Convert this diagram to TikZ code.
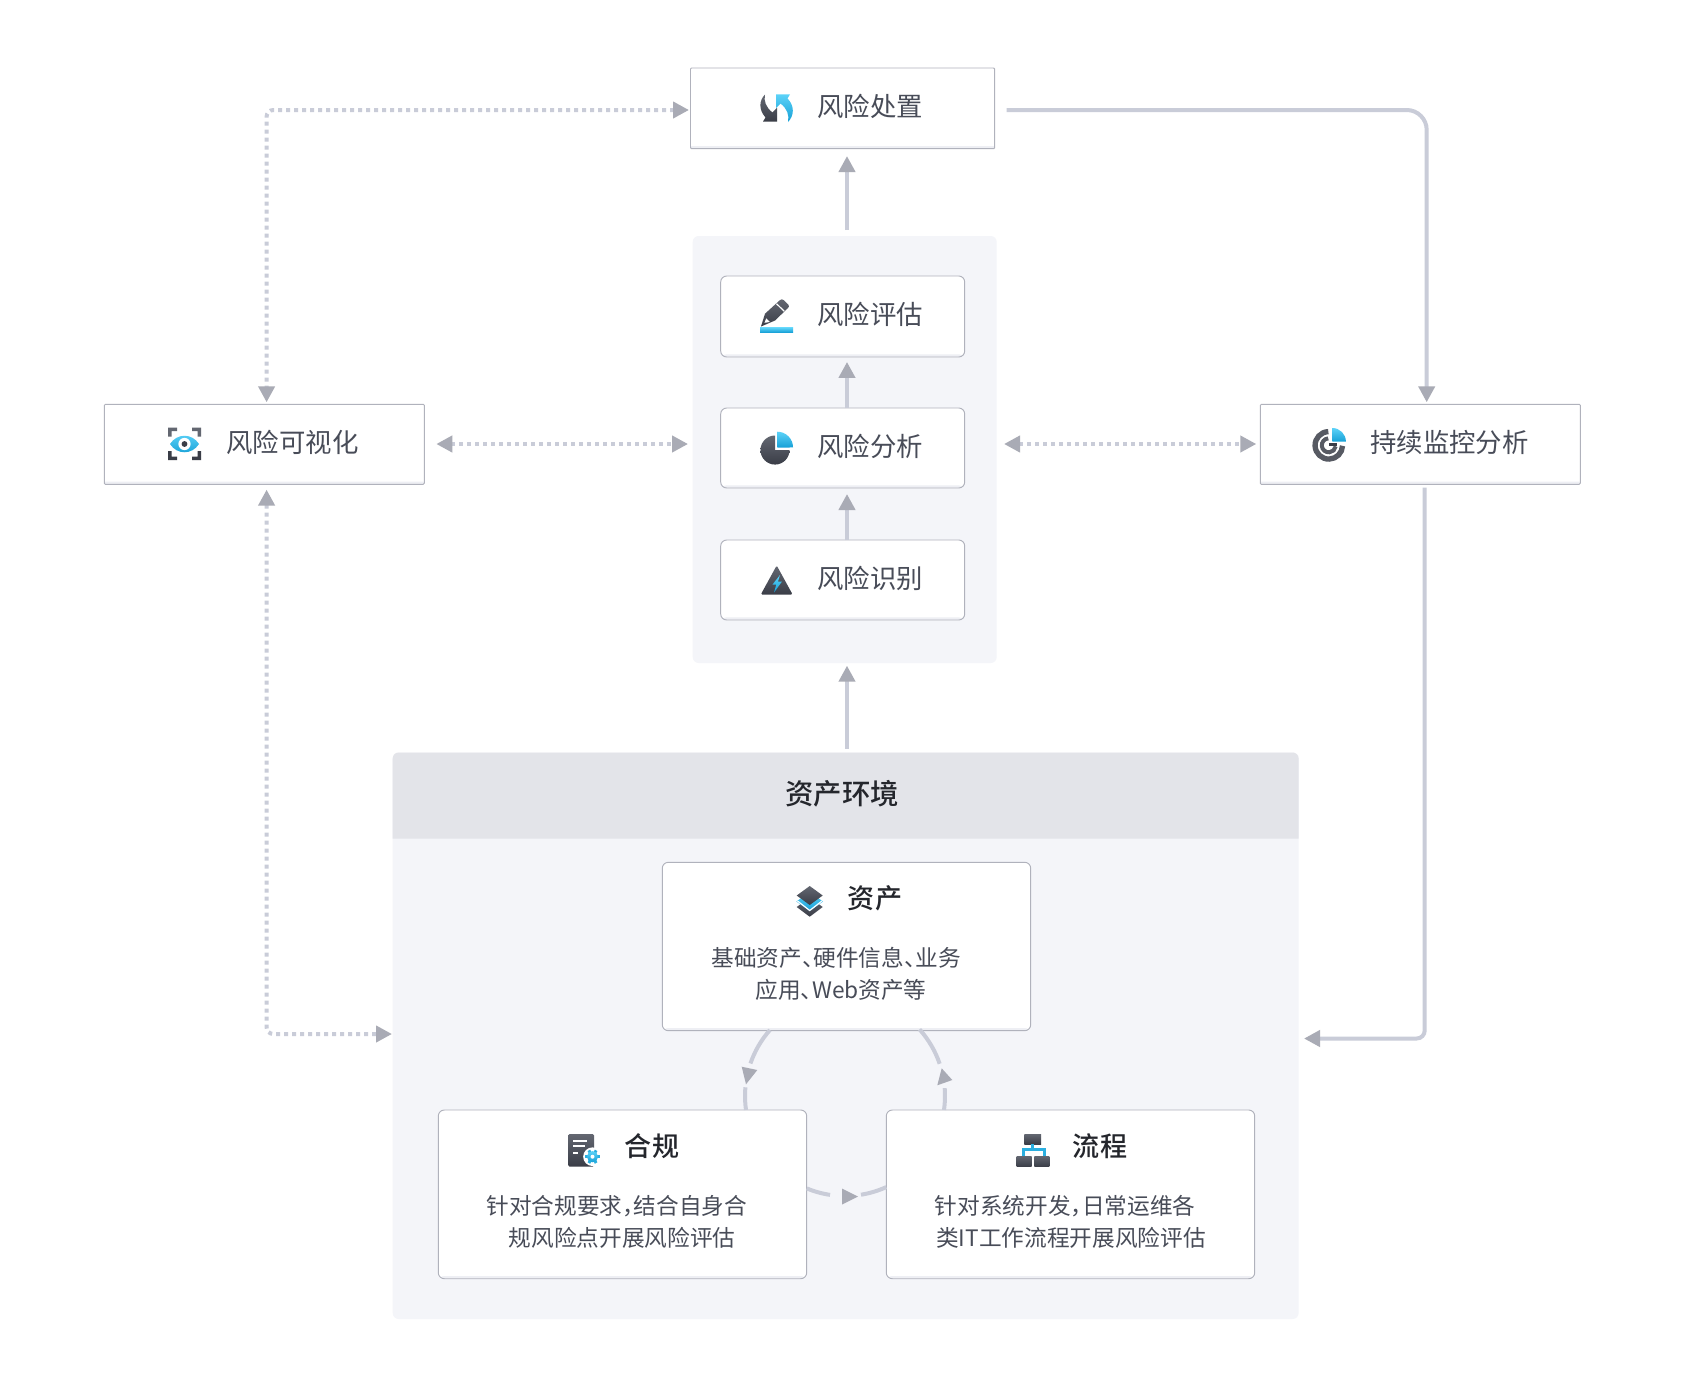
\documentclass[tikz,border=0pt]{standalone}
\usepackage{fontspec}
\usetikzlibrary{arrows.meta,calc}
\setmainfont{Noto Sans CJK SC}[RawFeature=+halt]
\newfontfamily\cjkmed{Noto Sans CJK SC Medium}[RawFeature=+halt]
\definecolor{linec}{HTML}{C9CCD8}
\definecolor{headc}{HTML}{A9ABB5}
\definecolor{panelc}{HTML}{F4F5F9}
\definecolor{hdrc}{HTML}{E3E4E9}
\definecolor{borderc}{HTML}{B0B2BC}
\definecolor{stripc}{HTML}{EEEFF4}
\definecolor{textc}{HTML}{484C58}
\definecolor{titlec}{HTML}{24262C}
\definecolor{darkt}{HTML}{636771}
\definecolor{darkb}{HTML}{3A3D47}
\definecolor{bluet}{HTML}{5CD2F8}
\definecolor{blueb}{HTML}{16A0D6}
\newcommand\pbox[6]{\node[#2,minimum width={(#5-#3)*0.75pt},minimum height={(#6-#4)*0.75pt}] (#1) at ({(#3+#5)/2},{(#4+#6)/2}) {};}
\tikzset{
  x=0.75pt,y=-0.75pt,
  boxbase/.style={fill=white,draw=borderc,line width=0.7pt,inner sep=0pt,outer sep=0pt,
    path picture={\fill[stripc] ([yshift=2pt]path picture bounding box.south west) rectangle (path picture bounding box.south east);}},
  boxsharp/.style={boxbase,rounded corners=0.8pt},
  boxround/.style={boxbase,rounded corners=4.5pt},
  panelbox/.style={fill=panelc,inner sep=0pt,outer sep=0pt,rounded corners=4.5pt},
  flowa/.style={draw=linec,line width=3pt,-{Triangle[length=12pt,width=12pt,color=headc]}},
  flowl/.style={draw=linec,line width=3pt},
  dota/.style={draw=linec,line width=3pt,dash pattern=on 3pt off 3pt,{Triangle[length=12pt,width=12pt,color=headc]}-{Triangle[length=12pt,width=12pt,color=headc]}},
  lab/.style={inner sep=0pt,outer sep=0pt,text=textc,font=\fontsize{19.8pt}{24pt}\selectfont},
  bodyt/.style={inner sep=0pt,outer sep=0pt,text=textc,font=\fontsize{17pt}{24pt}\selectfont},
  titlet/.style={inner sep=0pt,outer sep=0pt,text=titlec,font=\cjkmed\fontsize{20.3pt}{24pt}\selectfont},
  dk/.style={top color=darkt,bottom color=darkb,draw=none},
  bl/.style={top color=bluet,bottom color=blueb,draw=none},
  gapw/.style={draw=white,line width=0.9pt},
}
\begin{document}
\begin{tikzpicture}
\useasboundingbox (0,0) rectangle (1685,1389);
\fill[white] (0,0) rectangle (1685,1389);
% panels
\pbox{grp}{panelbox}{692.7}{236}{996.7}{663}
\pbox{env}{panelbox}{392.7}{752.5}{1298.6}{1319}
\fill[hdrc] (392.7,838.5) [rounded corners=4.5pt] -- (392.7,752.5) -- (1298.6,752.5) [sharp corners] -- (1298.6,838.5) -- cycle;
% free ends and guide coordinates
\coordinate (ax) at (847,0);
\coordinate (lx) at (266.6,0);
\coordinate (kx) at (1426.7,0);
\coordinate (kx2) at (1424.7,0);
\coordinate (ty) at (0,110);
\coordinate (hy) at (0,444);
\coordinate (tr) at (1006.7,110);
\coordinate (tl) at (689,102.4);
\coordinate (envl) at (392,1034);
\coordinate (envr) at (1304,1038.5);
\coordinate (rc) at (845,1096);
% boxes
\pbox{cz}{boxsharp}{690.5}{68}{994.7}{148.7}
\pbox{pg}{boxround}{720.7}{276}{964.7}{357}
\pbox{fx}{boxround}{720.7}{408}{964.7}{488}
\pbox{sb}{boxround}{720.7}{540}{964.7}{620}
\pbox{ks}{boxsharp}{104.3}{404.3}{424.3}{484.3}
\pbox{jk}{boxsharp}{1260.3}{404.3}{1580.3}{484.3}
\pbox{zc}{boxround}{662.3}{862.3}{1030.7}{1030.7}
\pbox{hg}{boxround}{438.3}{1110}{806.7}{1278.7}
\pbox{lc}{boxround}{886.3}{1110}{1254.7}{1278.7}
% straight connectors
\draw[flowa,shorten <=4.5pt,shorten >=5.5pt] (grp.north -| ax) -- (cz.south -| ax);
\draw[flowa,shorten >=3.7pt] (fx.north -| ax) -- (pg.south -| ax);
\draw[flowa,shorten >=4.5pt] (sb.north -| ax) -- (fx.south -| ax);
\draw[flowa,shorten <=3pt,shorten >=2pt] (env.north -| ax) -- (grp.south -| ax);
\draw[flowl,rounded corners=15pt,-{Triangle[length=12pt,width=12pt,color=headc]},shorten >=1.5pt] (tr) -- (kx |- tr) -- (kx |- jk.north);
\draw[flowl,rounded corners=6pt,-{Triangle[length=12pt,width=12pt,color=headc]},shorten <=2.5pt] (jk.south -| kx2) -- (kx2 |- envr) -- (envr);
% dotted connectors
\draw[dota,rounded corners=5pt,shorten >=1.5pt] (tl |- ty) -- (lx |- ty) -- (lx |- ks.north);
\draw[dota,rounded corners=5pt,shorten <=4pt] (lx |- ks.south) -- (lx |- envl) -- (envl);
\draw[dota,shorten <=9pt,shorten >=3.5pt] (ks.east |- hy) -- (grp.west |- hy);
\draw[dota,shorten <=5.5pt,shorten >=3pt] (grp.east |- hy) -- (jk.west |- hy);
% ring connectors
\draw[flowl] ([shift={(-138.7:100)}]rc) arc[start angle=138.7,end angle=161,radius=75pt];
\draw[flowl] ([shift={(-175:100)}]rc) arc[start angle=175,end angle=188,radius=75pt];
\fill[headc] (746,1084.3) -- (741.7,1066.7) -- (757.3,1070) -- cycle;
\draw[flowl] ([shift={(8:100)}]rc) arc[start angle=-8,end angle=4.5,radius=75pt];
\draw[flowl] ([shift={(-18.8:100)}]rc) arc[start angle=18.8,end angle=41.8,radius=75pt];
\fill[headc] (941.7,1068.3) -- (952.3,1080) -- (937.3,1085.3) -- cycle;
\draw[flowl] ([shift={(-247.5:100)}]rc) arc[start angle=247.5,end angle=261.4,radius=75pt];
\draw[flowl] ([shift={(-279.2:100)}]rc) arc[start angle=279.2,end angle=294.4,radius=75pt];
\fill[headc] (858,1196.5) -- (842,1188.5) -- (842,1204.5) -- cycle;
% labels
\node[lab] (t1) at (870,106.7) {风险处置};
\node[lab] (t2) at (870,314) {风险评估};
\node[lab] (t3) at (870,446.7) {风险分析};
\node[lab] (t4) at (870,578.3) {风险识别};
\node[lab] (t5) at (292.5,442.7) {风险可视化};
\node[lab] (t6) at (1449.5,442.7) {持续监控分析};
\node[titlet,font=\cjkmed\fontsize{21.3pt}{24pt}\selectfont] (t7) at (842,793.5) {资产环境};
\node[titlet] (t8) at (875,898.2) {资产};
\node[bodyt] (b1) at (836,957.7) {基础资产、硬件信息、业务};
\node[bodyt] (b2) at (841,990) {应用、Web资产等};
\node[titlet] (t9) at (652,1146) {合规};
\node[bodyt] (b3) at (616.7,1206) {针对合规要求，结合自身合};
\node[bodyt] (b4) at (622,1238) {规风险点开展风险评估};
\node[titlet] (t10) at (1100,1146) {流程};
\node[bodyt] (b5) at (1065,1206) {针对系统开发，日常运维各};
\node[bodyt] (b6) at (1071,1238) {类IT工作流程开展风险评估};
% icon: recycle
\shade[dk] (765,94.5) .. controls (759.5,100) and (758,109) .. (765.5,117.5) -- (763,121.5) -- (777,121.5) -- (777,107.7) -- (772.5,112.5) .. controls (766,107.5) and (763.5,101) .. (765,94.5) -- cycle;
\shade[bl] (788,122) .. controls (794,116) and (795,106) .. (787.5,98.5) -- (790,94.3) -- (776,94.3) -- (776,108) -- (780.5,103.5) .. controls (787,108.5) and (789.5,115) .. (788,122) -- cycle;
% icon: pen
\shade[dk] (761,326.5) -- (765,313.7) -- (779.5,300.5) .. controls (781,299) and (782.5,299) .. (783.5,300) -- (788.5,305) .. controls (789.3,306) and (789,307) .. (788,308) -- (775,320.5) -- cycle;
\draw[gapw] (776.5,303.7) -- (784.3,311.3);
\fill[white] (764.5,322.8) -- (766.2,318.3) -- (769.8,322) -- cycle;
\shade[bl] (760,327.7) rectangle (793,332.3);
% icon: eye
\foreach \cx/\cy/\sx/\sy/\st in {168/427.7/1/1/darkt,201/427.7/-1/1/darkt,168/460/1/-1/darkb,201/460/-1/-1/darkb}{
  \fill[\st] (\cx,\cy) -- ++(\sx*9,0) -- ++(0,\sy*3.5) -- ++(-\sx*5.5,0) -- ++(0,\sy*5.5) -- ++(-\sx*3.5,0) -- cycle;}
\shade[bl] (170,444) .. controls (177,433) and (192,433) .. (199,444) .. controls (192,455) and (177,455) .. (170,444) -- cycle;
\fill[white] (184.5,444) circle[radius=4.6pt];
\fill[darkb] (184.5,444) circle[radius=2.2pt];
% icon: target
\coordinate (tg) at (1328.8,445.3);
\draw[darkb!85!white,line width=4pt] ([shift={(-92:13.7)}]tg) arc[start angle=92,end angle=358,radius=10.3pt];
\draw[darkb!85!white,line width=3pt] ([shift={(-95:7)}]tg) arc[start angle=95,end angle=352,radius=5.25pt];
\fill[darkb] (1329,442.5) rectangle (1337,445.5);
\shade[bl] (1332.3,441.7) -- (1332.3,428) arc[start angle=90,end angle=0,radius=10.2pt] -- cycle;
% icon: pie
\shade[dk] (775,450) -- (775,435.5) arc[start angle=90,end angle=360,radius=10.9pt] -- cycle;
\shade[bl] (777.3,447.7) -- (777.3,431.7) arc[start angle=90,end angle=0,radius=11.8pt] -- cycle;
% icon: triangle
\shade[dk,rounded corners=1pt] (776.7,565.5) -- (792.6,594.5) -- (760.8,594.5) -- cycle;
\shade[bl] (780,575) -- (772.5,584.5) -- (776.3,584.5) -- (774,592.5) -- (782,581.5) -- (778,581.5) -- cycle;
% icon: layers
\shade[dk] (809.7,897.5) -- (822.7,907) -- (809.7,916.7) -- (796.7,907) -- cycle;
\shade[bl] (809.7,892) -- (823,901.5) -- (809.7,911) -- (796.4,901.5) -- cycle;
\draw[gapw] (797.5,901) -- (809.7,910.5) -- (822,901);
\shade[dk] (809.7,886) -- (822.7,895.5) -- (809.7,905) -- (796.7,895.5) -- cycle;
% icon: document
\shade[dk,rounded corners=1pt] (568.3,1134) rectangle (594,1166.7);
\fill[white] (573.3,1139.7) rectangle (587,1141.7);
\fill[white] (573.3,1145.3) rectangle (585,1147.3);
\fill[white] (573.3,1152) rectangle (578.3,1154);
\fill[white] (592.5,1156.7) circle[radius=7pt];
\coordinate (gr) at (592.5,1156.7);
\foreach \an in {0,60,...,300}{\draw[blueb!70!bluet,line width=2.2pt] (gr) -- ++(\an:7.3);}
\shade[bl] (gr) circle[radius=4.2pt];
\fill[white] (gr) circle[radius=1.5pt];
% icon: flow
\shade[dk] (1024.3,1134) rectangle (1041,1144);
\shade[dk] (1016.7,1156) rectangle (1031.7,1166.7);
\shade[dk] (1034.3,1156) rectangle (1049.3,1166.7);
\draw[blueb!70!bluet,line width=2.2pt] (1023.3,1156) -- (1023.3,1149.3) -- (1044.5,1149.3) -- (1044.5,1156);
\draw[blueb!70!bluet,line width=2.2pt] (1032.7,1144) -- (1032.7,1149.3);
\end{tikzpicture}
\end{document}
